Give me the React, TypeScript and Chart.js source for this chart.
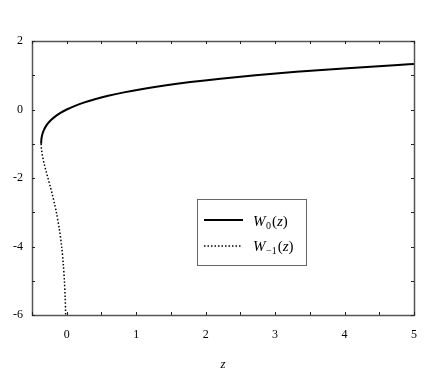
import React, { useEffect, useRef } from "react";
import { Chart, registerables } from "chart.js";

Chart.register(...registerables);

// Principal branch W0(z): z values and W values
const w0Z = [-0.3679, -0.3674, -0.3659, -0.3633, -0.3595, -0.3476, -0.3293, -0.3033, -0.2681, -0.2222, -0.1637, -0.0905, 0, 0.1105, 0.2443, 0.405, 0.5967, 0.8244, 1.0933, 1.4096, 1.7804, 2.2136, 2.7183, 3.3046, 3.9841, 4.7701, 5.0];
const w0W = [-1, -0.95, -0.9, -0.85, -0.8, -0.7, -0.6, -0.5, -0.4, -0.3, -0.2, -0.1, 0, 0.1, 0.2, 0.3, 0.4, 0.5, 0.6, 0.7, 0.8, 0.9, 1.0, 1.1, 1.2, 1.3, 1.3267];

// Lower branch W-1(z)
const wm1Z = [-0.3679, -0.3662, -0.3614, -0.3452, -0.323, -0.2975, -0.2707, -0.2372, -0.2052, -0.1758, -0.1494, -0.1057, -0.0733, -0.05, -0.0337, -0.0225, -0.0149];
const wm1W = [-1, -1.1, -1.2, -1.4, -1.6, -1.8, -2.0, -2.25, -2.5, -2.75, -3, -3.5, -4, -4.5, -5, -5.5, -6];

const xTicks = [0, 1, 2, 3, 4, 5];
const yTicks = [-6, -4, -2, 0, 2];
const xMinor = [-0.5, 0, 0.5, 1, 1.5, 2, 2.5, 3, 3.5, 4, 4.5, 5];
const yMinor = [-6, -5, -4, -3, -2, -1, 0, 1, 2];

const FONT = "'Liberation Serif', 'Times New Roman', serif";

const framePlugin = {
  id: "frame",
  afterDraw(chart: any) {
    const { ctx, chartArea: a, scales } = chart;
    const x = scales.x, y = scales.y;
    ctx.save();
    ctx.strokeStyle = "#555";
    ctx.lineWidth = 1.5;
    ctx.strokeRect(Math.round(a.left) + 0.5, Math.round(a.top) + 0.5, Math.round(a.right - a.left), Math.round(a.bottom - a.top));
    ctx.beginPath();
    ctx.strokeStyle = "#222";
    ctx.lineWidth = 1;
    const tl = 3;
    xMinor.forEach((v) => {
      const px = Math.round(x.getPixelForValue(v)) + 0.5;
      ctx.moveTo(px, a.bottom); ctx.lineTo(px, a.bottom - tl);
      ctx.moveTo(px, a.top); ctx.lineTo(px, a.top + tl);
    });
    yMinor.forEach((v) => {
      const py = Math.round(y.getPixelForValue(v)) + 0.5;
      ctx.moveTo(a.left, py); ctx.lineTo(a.left + tl, py);
      ctx.moveTo(a.right, py); ctx.lineTo(a.right - tl, py);
    });
    ctx.stroke();

    // legend
    const lx = 197, ly = 199, lw = 109, lh = 66;
    ctx.strokeStyle = "#666";
    ctx.lineWidth = 1;
    ctx.strokeRect(lx + 0.5, ly + 0.5, lw, lh);
    ctx.strokeStyle = "#000";
    ctx.lineWidth = 2;
    ctx.beginPath();
    ctx.moveTo(204, 220); ctx.lineTo(243, 220);
    ctx.stroke();
    ctx.lineWidth = 1.5;
    ctx.setLineDash([1.5, 2]);
    ctx.beginPath();
    ctx.moveTo(204, 246); ctx.lineTo(241, 246);
    ctx.stroke();
    ctx.setLineDash([]);

    ctx.fillStyle = "#000";
    ctx.textBaseline = "alphabetic";
    ctx.textAlign = "left";
    const drawLabel = (sub: string, base: number) => {
      let cx = 253;
      ctx.font = `italic 15px ${FONT}`;
      ctx.fillText("W", cx, base);
      cx += ctx.measureText("W").width + 0.5;
      ctx.font = `10px ${FONT}`;
      ctx.fillText(sub, cx, base + 3);
      cx += ctx.measureText(sub).width + 1;
      ctx.font = `15px ${FONT}`;
      ctx.fillText("(", cx, base);
      cx += ctx.measureText("(").width;
      ctx.font = `italic 15px ${FONT}`;
      ctx.fillText("z", cx, base);
      cx += ctx.measureText("z").width;
      ctx.font = `15px ${FONT}`;
      ctx.fillText(")", cx, base);
    };
    drawLabel("0", 226);
    drawLabel("\u22121", 251);
    ctx.restore();
  },
};

export default function App() {
  const ref = useRef<HTMLCanvasElement | null>(null);
  useEffect(() => {
    if (!ref.current) return;
    const chart = new Chart(ref.current, {
      type: "scatter",
      data: {
        datasets: [
          {
            label: "W0(z)",
            data: w0Z.map((z, i) => ({ x: z, y: w0W[i] })),
            showLine: true,
            borderColor: "#000",
            borderWidth: 2,
            pointRadius: 0,
            tension: 0.4,
            cubicInterpolationMode: "monotone",
          },
          {
            label: "W-1(z)",
            data: wm1Z.map((z, i) => ({ x: z, y: wm1W[i] })),
            showLine: true,
            borderColor: "#000",
            borderWidth: 1.5,
            borderDash: [1.5, 2],
            pointRadius: 0,
            tension: 0.3,
          },
        ],
      },
      options: {
        animation: false,
        responsive: false,
        layout: { padding: { top: 41, right: 22, left: 0, bottom: 0 } },
        plugins: { legend: { display: false }, tooltip: { enabled: false } },
        scales: {
          x: {
            type: "linear",
            min: -0.5,
            max: 5,
            grid: { display: false, drawTicks: false },
            border: { display: false },
            afterBuildTicks: (s: any) => { s.ticks = xTicks.map((v) => ({ value: v })); },
            afterFit: (s: any) => { s.height = 58; },
            ticks: { color: "#000", font: { family: FONT, size: 12 }, padding: 13, maxRotation: 0 },
            title: { display: true, text: "z", color: "#000", font: { family: FONT, size: 13, style: "italic" }, padding: { top: 14, bottom: 1 } },
          },
          y: {
            type: "linear",
            min: -6,
            max: 2,
            grid: { display: false, drawTicks: false },
            border: { display: false },
            afterBuildTicks: (s: any) => { s.ticks = yTicks.map((v) => ({ value: v })); },
            afterFit: (s: any) => { s.width = 32; },
            ticks: { color: "#000", font: { family: FONT, size: 12 }, padding: 9 },
          },
        },
      },
      plugins: [framePlugin],
    } as any);
    return () => chart.destroy();
  }, []);
  return (
    <div style={{ position: "absolute", left: 0, top: 0, width: 436, height: 373, background: "#fff" }}>
      <canvas ref={ref} width={436} height={373} />
    </div>
  );
}
